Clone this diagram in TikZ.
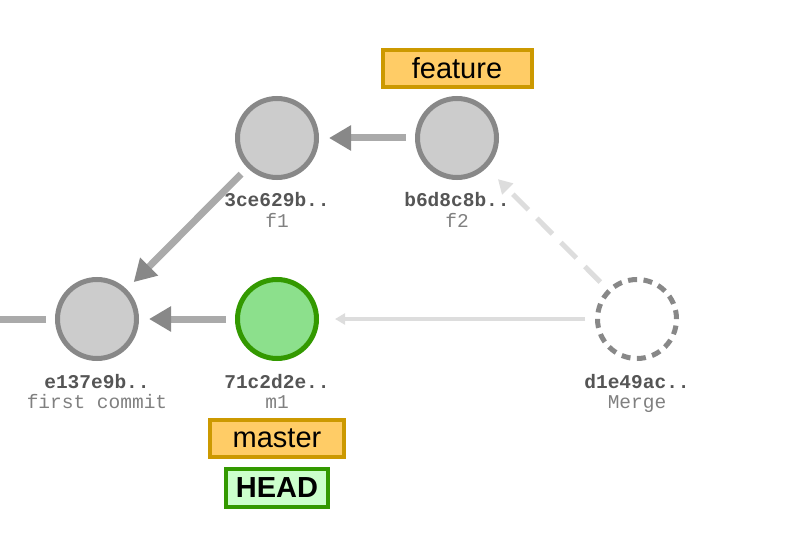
\documentclass[tikz,border=0pt]{standalone}
\usepackage{fontspec}
\setmainfont{Liberation Sans}
\newfontfamily\monofont{Liberation Mono}
\usetikzlibrary{positioning}
\usetikzlibrary{arrows.meta}

\definecolor{commitfill}{HTML}{CCCCCC}
\definecolor{commitgray}{HTML}{888888}
\definecolor{headgreen}{HTML}{339900}
\definecolor{headfill}{HTML}{8CE08C}
\definecolor{headlight}{HTML}{CCFFCC}
\definecolor{branchfill}{HTML}{FFCC66}
\definecolor{branchborder}{HTML}{CC9900}
\definecolor{linegray}{HTML}{AAAAAA}
\definecolor{ghostgray}{HTML}{DDDDDD}
\definecolor{hashgray}{HTML}{555555}
\definecolor{msggray}{HTML}{808080}

\tikzset{
    commit/.style={circle, draw=commitgray, fill=commitfill, line width=5pt, minimum size=79pt, inner sep=0pt},
    headcommit/.style={commit, draw=headgreen, fill=headfill},
    mergecommit/.style={commit, fill=white, dash pattern=on 9pt off 6.5pt},
    hashtxt/.style={font=\monofont\bfseries\fontsize{19.5}{20}\selectfont, text=hashgray, inner sep=0pt},
    msgtxt/.style={font=\monofont\fontsize{19.5}{20}\selectfont, text=msggray, inner sep=0pt},
    branch/.style={draw=branchborder, fill=branchfill, line width=4pt, font=\fontsize{29}{30}\selectfont, minimum height=37pt, inner sep=0pt},
    headbox/.style={branch, draw=headgreen, fill=headlight, font=\bfseries\fontsize{29}{30}\selectfont, minimum height=38pt},
    parent/.style={draw=linegray, line width=7pt, -{Triangle[length=22pt, width=24pt, color=commitgray]}, shorten >=10pt, shorten <=9pt},
    ghost/.style={draw=ghostgray, line width=5pt, dash pattern=on 22pt off 12pt, -{Triangle[length=14pt, width=15pt]}, shorten >=16pt, shorten <=10pt},
    ghostthin/.style={draw=ghostgray, line width=3.5pt, -{Triangle[length=10pt, width=11pt]}, shorten >=16pt, shorten <=10pt}
}

\begin{document}
\begin{tikzpicture}
    \useasboundingbox (0,0) rectangle (791pt,-537pt);

    % commits
    \node[commit] (e137) at (97pt,-319pt) {};
    \node[headcommit, right=96pt of e137] (m1) {};
    \node[commit, above=97pt of m1] (f1) {};
    \node[commit, right=96pt of f1] (f2) {};
    \node[mergecommit, right=276pt of m1] (merge) {};
    \coordinate (prev) at (0pt,-319pt);

    % hashes and messages
    \node[hashtxt, below=27pt of e137, anchor=base] (e137h) {e137e9b..};
    \node[msgtxt, below=20pt of e137h.base, anchor=base] (e137m) {first commit};
    \node[hashtxt, below=27pt of m1, anchor=base] (m1h) {71c2d2e..};
    \node[msgtxt, below=20pt of m1h.base, anchor=base] (m1m) {m1};
    \node[hashtxt, below=27pt of f1, anchor=base] (f1h) {3ce629b..};
    \node[msgtxt, below=20pt of f1h.base, anchor=base] (f1m) {f1};
    \node[hashtxt, below=27pt of f2, anchor=base] (f2h) {b6d8c8b..};
    \node[msgtxt, below=20pt of f2h.base, anchor=base] (f2m) {f2};
    \node[hashtxt, below=27pt of merge, anchor=base] (mergeh) {d1e49ac..};
    \node[msgtxt, below=20pt of mergeh.base, anchor=base] (mergem) {Merge};

    % branches
    \node[branch, minimum width=149pt, above=7pt of f2] (feature) {feature};
    \node[branch, minimum width=134pt, below=57pt of m1] (master) {master};
    \node[headbox, minimum width=102pt, below=8pt of master] (head) {HEAD};

    % parents
    \draw[draw=linegray, line width=7pt, shorten <=9pt] (e137) -- (prev);
    \draw[parent] (m1) -- (e137);
    \draw[parent] (f1) -- (e137);
    \draw[parent] (f2) -- (f1);
    \draw[ghost] (merge) -- (f2);
    \draw[ghostthin] (merge) -- (m1);
\end{tikzpicture}
\end{document}
